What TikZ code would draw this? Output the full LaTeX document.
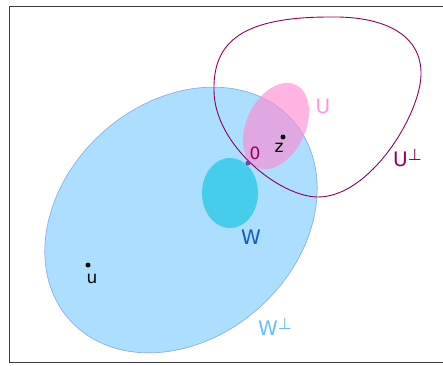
\documentclass[tikz,border=0pt]{standalone}
\usepackage{fontspec}
\setmainfont{DejaVu Sans}
\definecolor{wperp}{RGB}{171,222,255}
\definecolor{wperpline}{RGB}{140,175,230}
\definecolor{wcol}{RGB}{70,205,235}
\definecolor{upink}{RGB}{255,138,208}
\definecolor{uperp}{RGB}{145,0,90}
\definecolor{origin}{RGB}{110,70,160}
\definecolor{wlabel}{RGB}{20,90,200}
\definecolor{wperplabel}{RGB}{100,190,255}
\definecolor{ulabel}{RGB}{255,150,220}
\definecolor{frame}{RGB}{60,60,60}
\newcommand{\perpsym}{\raisebox{0.6ex}{\fontsize{16}{16}\selectfont ⊥}}
\tikzset{
  dot/.style={circle,fill=black,inner sep=0pt,minimum size=5pt},
  lab/.style={inner sep=0pt,font=\fontsize{20}{20}\selectfont},
  smalllab/.style={inner sep=0pt,font=\fontsize{17}{17}\selectfont}
}
\begin{document}
\begin{tikzpicture}[x=1pt,y=1pt]
\useasboundingbox (0,0) rectangle (443,365);
% frame
\draw[frame,line width=1pt] (446,2.5) -- (9.5,2.5) -- (9.5,358) -- (446,358);
% W perp
\filldraw[fill=wperp,draw=wperpline,line width=0.7pt] (181,145) ellipse [x radius=149.6,y radius=117.5,rotate=42];
% W
\fill[wcol] (230,172) ellipse [x radius=28,y radius=35];
% U
\fill[upink,opacity=0.64] (276,239) ellipse [x radius=45.6,y radius=29.4,rotate=64.4];
% U perp
\draw[uperp,line width=0.9pt] (214,275)
  .. controls (213,325) and (245,348) .. (330,348)
  .. controls (385,349) and (422,330) .. (421,290)
  .. controls (420,250) and (370,168) .. (318,168)
  .. controls (280,168) and (214,220) .. cycle;
% points
\node[dot,fill=origin,minimum size=5pt] (o) at (248,202) {};
\node[smalllab,text=uperp] (olab) at (255,212) {0};
\node[dot] (z) at (283,228) {};
\node[smalllab] (zlab) at (279,217) {z};
\node[dot] (u) at (88,100) {};
\node[smalllab] (ulab) at (92,86) {u};
% labels
\node[lab,text=ulabel] (Ulab) at (323,259) {U};
\node[lab,text=uperp,anchor=west] (Uperplab) at (393,207) {U\perpsym};
\node[lab,text=wlabel] (Wlab) at (251,128) {W};
\node[lab,text=wperplabel,anchor=west] (Wperplab) at (258,38) {W\perpsym};
\end{tikzpicture}
\end{document}
